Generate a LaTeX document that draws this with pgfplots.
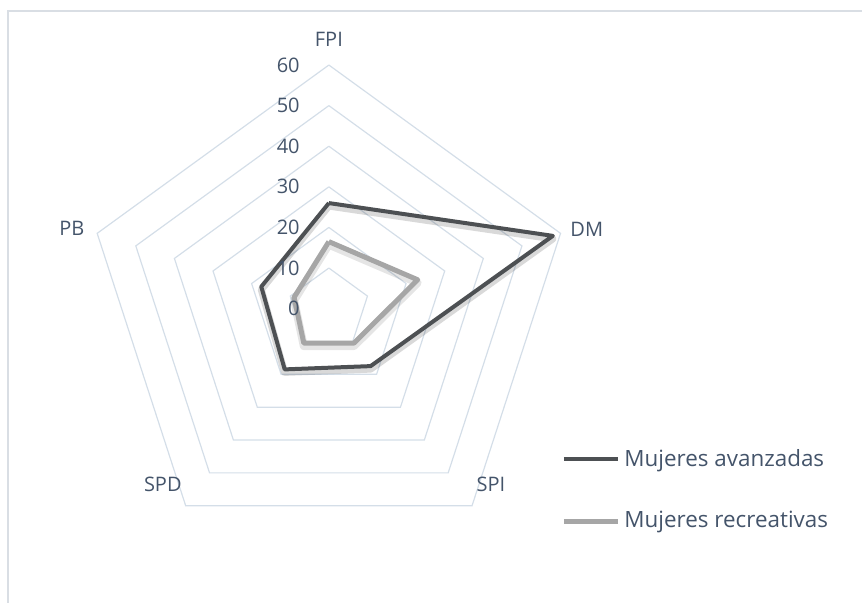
\documentclass[border=0pt]{standalone}
\usepackage{pgfplots}
\pgfplotsset{compat=1.18}
\usepackage{fontspec}
\setmainfont{Open Sans}
\definecolor{txt}{RGB}{68,84,106}
\definecolor{gridc}{RGB}{212,222,232}
\definecolor{framec}{RGB}{217,222,228}
\definecolor{avz}{RGB}{77,80,83}
\definecolor{rec}{RGB}{166,166,166}
\begin{document}
\begin{tikzpicture}[x=0.5pt,y=0.5pt]
\useasboundingbox (0,0) rectangle (862,603);
\draw[framec, line width=1pt] (8,-5) -- (8,592) -- (870,592);
\begin{axis}[
  at={(0,0)}, anchor=south west,
  x=2.03pt, y=2.03pt,
  xmin=-81.0, xmax=131.3, ymin=-72.5, ymax=76.0,
  hide axis, clip=false, data cs=polar,
  legend style={at={(axis cs:57.2,-33.6)}, anchor=north west, draw=none, fill=none,
    font=\fontsize{11.2}{12.5}\selectfont\color{txt}, row sep=17pt,
    inner sep=0pt, cells={anchor=west}},
  legend cell align=left,
  legend image code/.code={\draw[#1] (0pt,0pt) -- (27pt,0pt);},
]
% grid pentagons
\foreach \r in {10,20,30,40,50,60}{
  \edef\tmp{\noexpand\addplot[gridc, line width=0.6pt, forget plot] coordinates {(90,\r) (18,\r) (-54,\r) (-126,\r) (162,\r) (90,\r)};}
  \tmp
}
% soft shadows
\addplot[black, opacity=0.15, line width=3.5pt, line join=round, yshift=-1.5pt, forget plot] coordinates {(90,26) (18,58) (-54,17.5) (-126,18.5) (162,17.5) (90,26)};
\addplot[black, opacity=0.10, line width=4pt, line join=round, yshift=-1.5pt, forget plot] coordinates {(90,16.5) (18,23) (-54,10.5) (-126,10.5) (162,9) (90,16.5)};
\addplot[avz, line width=2pt, line join=round] coordinates {(90,26) (18,58) (-54,17.5) (-126,18.5) (162,17.5) (90,26)};
\addlegendentry{Mujeres avanzadas}
\addplot[rec, line width=2.5pt, line join=round] coordinates {(90,16.5) (18,23) (-54,10.5) (-126,10.5) (162,9) (90,16.5)};
\addlegendentry{Mujeres recreativas}
% radial value labels
\begin{scope}[font=\fontsize{10}{11}\selectfont, text=txt]
\node[anchor=east, inner sep=0pt] at (axis cs:-7.1,0) {0};
\node[anchor=east, inner sep=0pt] at (axis cs:-7.1,10) {10};
\node[anchor=east, inner sep=0pt] at (axis cs:-7.1,20) {20};
\node[anchor=east, inner sep=0pt] at (axis cs:-7.1,30) {30};
\node[anchor=east, inner sep=0pt] at (axis cs:-7.1,40) {40};
\node[anchor=east, inner sep=0pt] at (axis cs:-7.1,50) {50};
\node[anchor=east, inner sep=0pt] at (axis cs:-7.1,60) {60};
% category labels
\node[inner sep=0pt] at (axis cs:0,66.4) {FPI};
\node[anchor=west, inner sep=0pt] at (axis cs:59.4,19.6) {DM};
\node[inner sep=0pt] at (axis cs:39.9,-43.2) {SPI};
\node[inner sep=0pt] at (axis cs:-40.9,-43.2) {SPD};
\node[inner sep=0pt] at (axis cs:-63.3,19.8) {PB};
\end{scope}
\end{axis}
\end{tikzpicture}
\end{document}
